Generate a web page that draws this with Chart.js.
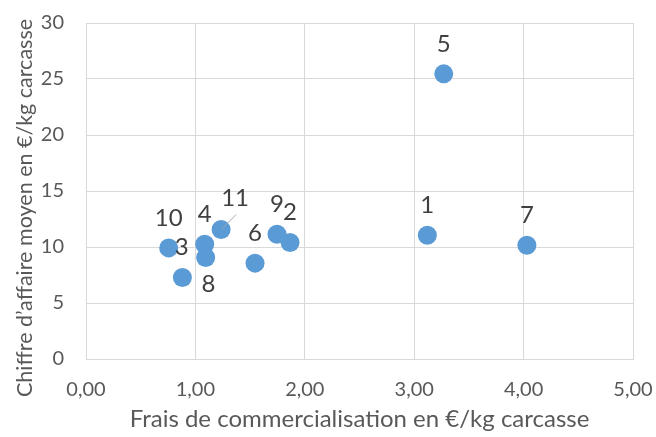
<!DOCTYPE html>
<html lang="fr">
<head>
<meta charset="utf-8">
<title>Frais de commercialisation et chiffre d'affaire</title>
<script src="https://cdn.jsdelivr.net/npm/chart.js@4.4.1/dist/chart.umd.min.js"></script>
<style>
  html, body { margin: 0; padding: 0; background: #fff; }
  #wrap { width: 656px; height: 437px; }
</style>
</head>
<body>
<div id="wrap"><canvas id="myChart" width="656" height="437"></canvas></div>
<script>
// Numéro de chaque exploitation
const pointLabels = ["1", "2", "3", "4", "5", "6", "7", "8", "9", "10", "11"];
// Frais de commercialisation (€/kg carcasse)
const fraisValues = [3.12, 1.865, 1.094, 1.085, 3.27, 1.545, 4.03, 0.881, 1.746, 0.756, 1.235];
// Chiffre d'affaire moyen (€/kg carcasse)
const caValues = [11.05, 10.4, 9.06, 10.25, 25.46, 8.56, 10.16, 7.28, 11.14, 9.92, 11.56];

const xTicks = [0, 1, 2, 3, 4, 5];
const yTicks = [0, 5, 10, 15, 20, 25, 30];
const yTitle = "Chiffre d’affaire moyen en €/kg carcasse";

const textColor = "#595959";
const gridColor = "#D9D9D9";
const fontFamily = "Lato, 'Open Sans', sans-serif";

// where each number sits relative to its marker (px)
const labelOffsets = {
  "3": [-24, -10],
  "8": [26, 7],
  "11": [14, -31],
};

const pointNumbers = {
  id: "pointNumbers",
  afterDatasetsDraw(chart) {
    const ctx = chart.ctx;
    const meta = chart.getDatasetMeta(0);
    ctx.save();
    ctx.font = "24px " + fontFamily;
    ctx.fillStyle = "#404040";
    ctx.textAlign = "center";
    ctx.textBaseline = "middle";
    meta.data.forEach((pt, i) => {
      const name = pointLabels[i];
      const off = labelOffsets[name] || [0, -30];
      ctx.fillText(name, pt.x + off[0], pt.y + off[1]);
      if (name === "11") {
        // leader line back to the marker
        ctx.strokeStyle = "#A6A6A6";
        ctx.lineWidth = 1;
        ctx.beginPath();
        ctx.moveTo(pt.x + 15, pt.y - 15);
        ctx.lineTo(pt.x + 1, pt.y - 1);
        ctx.stroke();
      }
    });
    ctx.restore();
  },
};

// vertical title, centred a little below the plot middle like the Excel original
const sideTitle = {
  id: "sideTitle",
  afterDraw(chart) {
    const ctx = chart.ctx;
    const area = chart.chartArea;
    ctx.save();
    ctx.translate(25, (area.top + area.bottom) / 2 + 17);
    ctx.rotate(-Math.PI / 2);
    ctx.font = "21.5px " + fontFamily;
    ctx.fillStyle = textColor;
    ctx.textAlign = "center";
    ctx.textBaseline = "middle";
    ctx.fillText(yTitle, 0, 0);
    ctx.restore();
  },
};

const ctx = document.getElementById("myChart").getContext("2d");
new Chart(ctx, {
  type: "scatter",
  data: {
    datasets: [
      {
        data: fraisValues.map((x, i) => ({ x: x, y: caValues[i] })),
        backgroundColor: "#5B9BD5",
        borderColor: "#5B9BD5",
        pointRadius: 9.5,
        pointHoverRadius: 9.5,
        borderWidth: 0,
      },
    ],
  },
  options: {
    responsive: false,
    animation: false,
    layout: { autoPadding: false, padding: { top: 23, right: 23, bottom: 3, left: 0 } },
    plugins: {
      legend: { display: false },
      tooltip: { enabled: false },
    },
    scales: {
      x: {
        type: "linear",
        min: 0,
        max: 5,
        afterBuildTicks: (scale) => {
          scale.ticks = xTicks.map((v) => ({ value: v }));
        },
        afterFit: (scale) => {
          scale.height = 75;
          scale.paddingLeft = 0;
          scale.paddingRight = 0;
        },
        ticks: {
          color: textColor,
          font: { family: fontFamily, size: 20 },
          padding: 19,
          callback: (v) => v.toFixed(2).replace(".", ","),
        },
        grid: { color: gridColor, drawTicks: false },
        border: { color: gridColor },
        title: {
          display: true,
          text: "Frais de commercialisation en €/kg carcasse",
          color: textColor,
          font: { family: fontFamily, size: 24 },
          padding: 0,
        },
      },
      y: {
        type: "linear",
        min: 0,
        max: 30,
        afterBuildTicks: (scale) => {
          scale.ticks = yTicks.map((v) => ({ value: v }));
        },
        afterFit: (scale) => {
          scale.width = 86;
          scale.paddingTop = 0;
          scale.paddingBottom = 0;
        },
        ticks: {
          color: textColor,
          font: { family: fontFamily, size: 20 },
          padding: 22,
        },
        grid: { color: gridColor, drawTicks: false },
        border: { color: gridColor },
      },
    },
  },
  plugins: [pointNumbers, sideTitle],
});
</script>
</body>
</html>
